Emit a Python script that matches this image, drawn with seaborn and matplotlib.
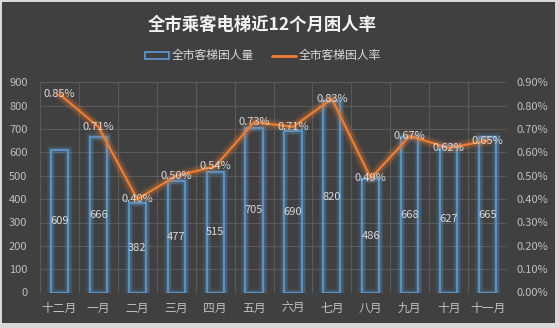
import numpy as np
import pandas as pd
import matplotlib
matplotlib.use("Agg")
import matplotlib.pyplot as plt
import matplotlib.patheffects as pe
from matplotlib.patches import Rectangle, Patch
from matplotlib.lines import Line2D
from matplotlib.ticker import FuncFormatter, FixedLocator
import seaborn as sns

# monthly data
months = ["十二月", "一月", "二月", "三月", "四月", "五月", "六月", "七月", "八月", "九月", "十月", "十一月"]
trapped_counts = [609, 666, 382, 477, 515, 705, 690, 820, 486, 668, 627, 665]
trapped_rates = [0.85, 0.71, 0.40, 0.50, 0.54, 0.73, 0.71, 0.83, 0.49, 0.67, 0.62, 0.65]  # percent

title_text = "全市乘客电梯近12个月困人率"
bar_label = "全市客梯困人量"
line_label = "全市客梯困人率"

BG = "#404040"
FRAME = "#d9d9d9"
GRID = "#5a5a5a"
TICK = "#bfbfbf"
TEXT = "#d9d9d9"
BLUE = "#5b9bd5"
ORANGE = "#ed7d31"

sns.set_theme(style="dark")
plt.rcParams["font.family"] = ["Noto Sans CJK SC", "DejaVu Sans"]

df = pd.DataFrame({"month": months, "count": trapped_counts, "rate": trapped_rates})
df["pos"] = np.arange(len(df))

fig = plt.figure(figsize=(5.59, 3.28), dpi=100, facecolor=FRAME)
fig.patches.append(Rectangle((2 / 559, 5 / 328), 553 / 559, 321 / 328,
                             transform=fig.transFigure, facecolor=BG,
                             edgecolor="none", zorder=-10))

ax = fig.add_axes([40 / 559, 35.5 / 328, 467 / 559, 210 / 328])
ax.set_facecolor("none")

# bars: outlined columns with a soft glow
sns.barplot(data=df, x="month", y="count", ax=ax, color=BLUE, width=0.44,
            order=months)
glow_bar = [pe.Stroke(linewidth=6, foreground=BLUE, alpha=0.12),
            pe.Stroke(linewidth=3.8, foreground=BLUE, alpha=0.25),
            pe.Normal()]
for p in ax.patches:
    p.set_facecolor("none")
    p.set_edgecolor(BLUE)
    p.set_linewidth(1.2)
    p.set_path_effects(glow_bar)
    p.set_zorder(2)

for i, c in enumerate(df["count"]):
    ax.text(i, c / 2, f"{c}", ha="center", va="center", color=TEXT,
            fontsize=8, zorder=6)

ax.set_xlim(-0.5, len(months) - 0.5)
ax.set_ylim(0, 900)
ax.set_yticks(np.arange(0, 901, 100))
ax.xaxis.set_minor_locator(FixedLocator(np.arange(-0.5, len(months), 1.0)))
ax.grid(True, which="minor", axis="x", color=GRID, linewidth=0.8)
ax.grid(True, which="major", axis="y", color=GRID, linewidth=0.8)
ax.grid(False, which="major", axis="x")
ax.set_axisbelow(True)
ax.set_xlabel("")
ax.set_ylabel("")
ax.tick_params(axis="x", which="both", length=0, pad=7, colors=TICK, labelsize=8.5)
ax.tick_params(axis="y", length=0, pad=9, colors=TICK, labelsize=8)
for s in ax.spines.values():
    s.set_visible(False)

# rate line on the secondary axis
ax2 = ax.twinx()
ax2.set_facecolor("none")
sns.lineplot(data=df, x="pos", y="rate", ax=ax2, color=ORANGE, linewidth=1.6,
             sort=False, zorder=4)
glow_line = [pe.Stroke(linewidth=8, foreground=ORANGE, alpha=0.12),
             pe.Stroke(linewidth=5, foreground=ORANGE, alpha=0.22),
             pe.Normal()]
for ln in ax2.lines:
    ln.set_path_effects(glow_line)
    ln.set_solid_capstyle("round")

for i, r in enumerate(df["rate"]):
    ax2.text(i, r, f"{r:.2f}%", ha="center", va="center", color=TEXT,
             fontsize=8, zorder=6)

ax2.set_xlim(-0.5, len(months) - 0.5)
ax2.set_ylim(0, 0.9)
ax2.set_yticks(np.arange(0, 0.91, 0.1))
ax2.yaxis.set_major_formatter(FuncFormatter(lambda v, _: f"{v:.2f}%"))
ax2.grid(False)
ax2.set_xlabel("")
ax2.set_ylabel("")
ax2.tick_params(axis="y", length=0, pad=7, colors=TICK, labelsize=8)
for s in ax2.spines.values():
    s.set_visible(False)
if ax2.get_legend() is not None:
    ax2.get_legend().remove()
if ax.get_legend() is not None:
    ax.get_legend().remove()

fig.text(262 / 559, 1 - 25 / 328, title_text, ha="center", va="center",
         color="#f2f2f2", fontsize=12.5, fontweight="bold")

handles = [Patch(facecolor="none", edgecolor=BLUE, linewidth=1.2, label=bar_label),
           Line2D([], [], color=ORANGE, linewidth=2, label=line_label)]
fig.legend(handles=handles, loc="center", bbox_to_anchor=(263 / 559, 1 - 56 / 328),
           ncol=2, frameon=False, fontsize=8.5, labelcolor=TEXT,
           handlelength=2.0, handleheight=0.6, handletextpad=0.2,
           columnspacing=1.6)

fig.savefig("out.png", dpi=100, facecolor=FRAME)
